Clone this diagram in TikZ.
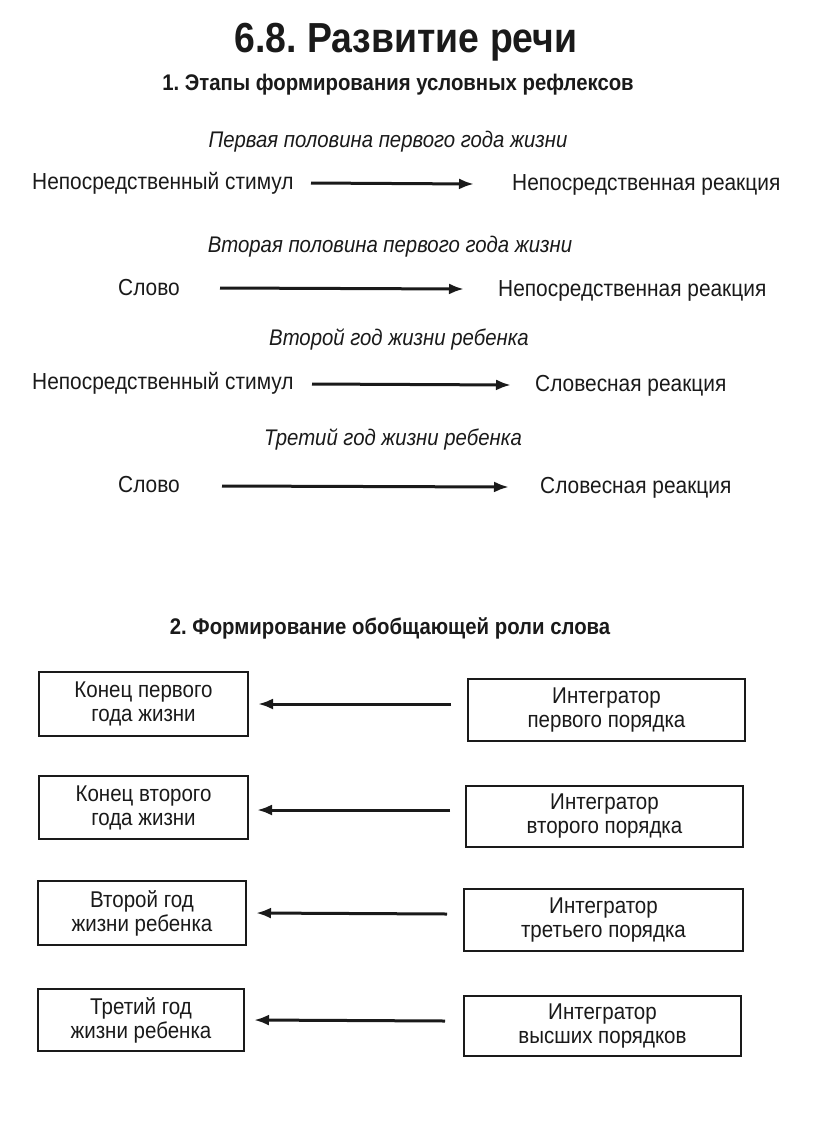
\documentclass[tikz,border=0pt]{standalone}
\usepackage{fontspec}
\setmainfont{Liberation Sans}
\newfontfamily\titlefont[FakeStretch=0.89]{Liberation Sans}
\newfontfamily\bodyfont[FakeStretch=0.9]{Liberation Sans}
\usetikzlibrary{arrows.meta}
\frenchspacing
\definecolor{ink}{HTML}{1A1A1A}
\tikzset{
  txt/.style={inner sep=0pt, anchor=west, text=ink, font=\bodyfont\fontsize{23.2}{26}\selectfont},
  stage/.style={inner sep=0pt, text=ink, font=\bodyfont\itshape\fontsize{22.6}{25}\selectfont},
  head/.style={inner sep=0pt, text=ink, font=\bodyfont\bfseries\fontsize{22.6}{25}\selectfont},
  arr/.style={draw=ink, line width=3pt, -{Latex[length=15pt,width=11pt]}},
  box/.style={draw=ink, line width=2pt, inner sep=0pt, align=center, text=ink,
     font=\bodyfont\fontsize{22.8}{24}\selectfont, anchor=north west},
}
\begin{document}
\begin{tikzpicture}[x=1pt,y=-1pt]
\useasboundingbox[fill=white] (0,0) rectangle (816,1144);
% title
\node[inner sep=0pt, text=ink, font=\titlefont\bfseries\fontsize{42}{44}\selectfont\frenchspacing] (title) at (406,42) {6.8. Развитие речи};
\node[head] (h1) at (398,85) {\frenchspacing 1. Этапы формирования условных рефлексов};
% section 1
\node[stage] (s1) at (388,142) {Первая половина первого года жизни};
\node[txt] (l1) at (32,183) {Непосредственный стимул};
\node[txt] (r1) at (512,185) {Непосредственная реакция};
\coordinate (a1s) at (311,183);
\coordinate (a1e) at (474,184);
\draw[arr] (a1s) -- (a1e);

\node[stage] (s2) at (390,247) {Вторая половина первого года жизни};
\node[txt] (l2) at (118,288) {Слово};
\node[txt] (r2) at (498,291) {Непосредственная реакция};
\coordinate (a2s) at (220,288);
\coordinate (a2e) at (464,289);
\draw[arr] (a2s) -- (a2e);

\node[stage] (s3) at (399,339) {Второй год жизни ребенка};
\node[txt] (l3) at (32,383) {Непосредственный стимул};
\node[txt] (r3) at (535,386) {Словесная реакция};
\coordinate (a3s) at (312,384);
\coordinate (a3e) at (511,385);
\draw[arr] (a3s) -- (a3e);

\node[stage] (s4) at (393,439) {Третий год жизни ребенка};
\node[txt] (l4) at (118,485) {Слово};
\node[txt] (r4) at (540,488) {Словесная реакция};
\coordinate (a4s) at (222,486);
\coordinate (a4e) at (509,487);
\draw[arr] (a4s) -- (a4e);

% section 2
\node[head] (h2) at (390,628) {\frenchspacing 2. Формирование обобщающей роли слова};

\node[box, minimum width=209pt, minimum height=64pt] (b1l) at (38,671) {Конец первого\\года жизни};
\node[box, minimum width=277pt, minimum height=62pt] (b1r) at (467,678) {Интегратор\\первого порядка};
\coordinate (c1) at (451,704);
\coordinate (d1) at (258,704);
\draw[arr] (c1) -- (d1);

\node[box, minimum width=209pt, minimum height=63pt] (b2l) at (38,775) {Конец второго\\года жизни};
\node[box, minimum width=277pt, minimum height=61pt] (b2r) at (465,785) {Интегратор\\второго порядка};
\coordinate (c2) at (450,810);
\coordinate (d2) at (257,810);
\draw[arr] (c2) -- (d2);

\node[box, minimum width=208pt, minimum height=64pt] (b3l) at (37,880) {Второй год\\жизни ребенка};
\node[box, minimum width=279pt, minimum height=62pt] (b3r) at (463,888) {Интегратор\\третьего порядка};
\coordinate (c3) at (447,914);
\coordinate (d3) at (256,913);
\draw[arr] (c3) -- (d3);

\node[box, minimum width=206pt, minimum height=62pt] (b4l) at (37,988) {Третий год\\жизни ребенка};
\node[box, minimum width=277pt, minimum height=60pt] (b4r) at (463,995) {Интегратор\\высших порядков};
\coordinate (c4) at (445,1021);
\coordinate (d4) at (254,1020);
\draw[arr] (c4) -- (d4);
\end{tikzpicture}
\end{document}
